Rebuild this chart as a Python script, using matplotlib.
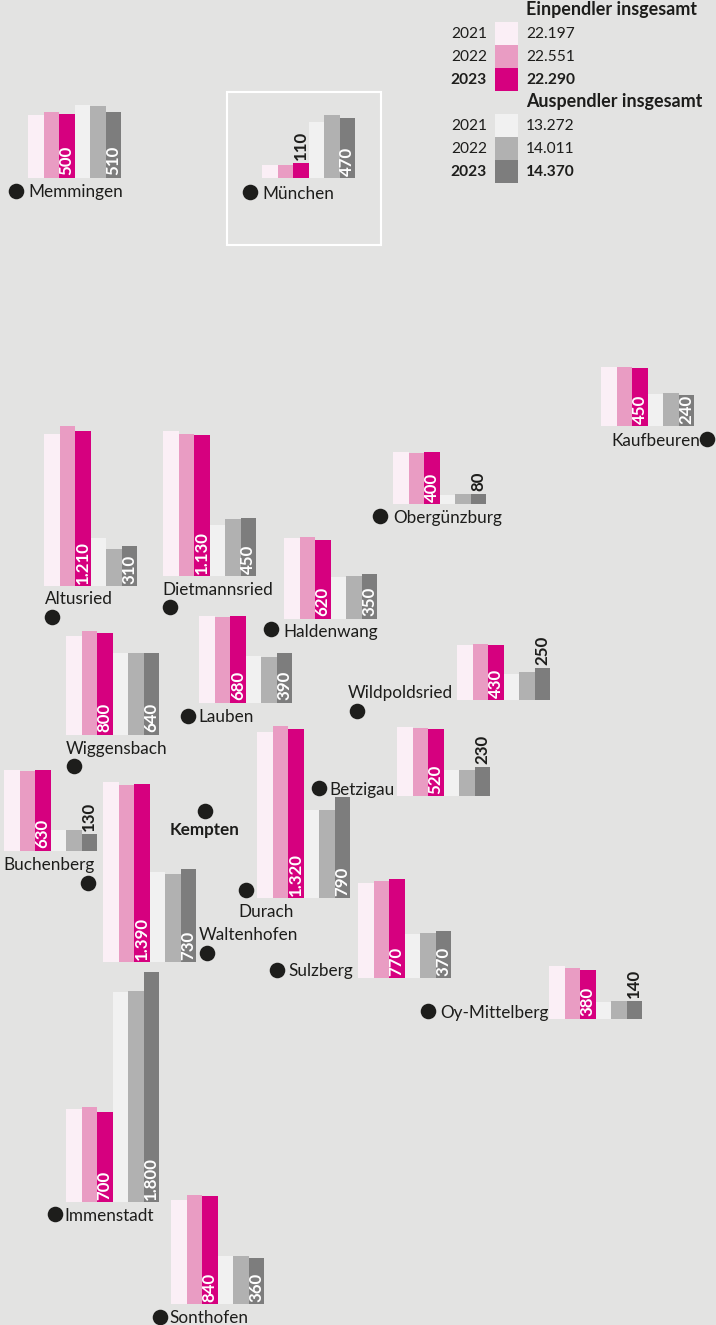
import matplotlib
matplotlib.use('Agg')
import matplotlib.pyplot as plt
from matplotlib.patches import Rectangle

plt.rcParams['font.family'] = ['Lato', 'DejaVu Sans']

# werte je gemeinde
orte = ['Memmingen', 'München', 'Altusried', 'Dietmannsried', 'Haldenwang', 'Wiggensbach',
        'Lauben', 'Wildpoldsried', 'Obergünzburg', 'Kaufbeuren', 'Betzigau', 'Buchenberg',
        'Durach', 'Waltenhofen', 'Sulzberg', 'Oy-Mittelberg', 'Immenstadt', 'Sonthofen']
ein_2021 = [490, 105, 1190, 1135, 630, 775, 680, 430, 405, 460, 540, 630, 1295, 1405, 740, 415, 725, 812]
ein_2022 = [515, 100, 1250, 1110, 640, 810, 670, 437, 400, 460, 530, 625, 1345, 1385, 760, 400, 740, 850]
ein_2023 = [500, 115, 1210, 1100, 620, 800, 680, 430, 405, 450, 520, 630, 1320, 1390, 770, 380, 700, 840]
aus_2021 = [570, 440, 375, 400, 330, 640, 365, 203, 70, 250, 203, 165, 685, 700, 345, 133, 1640, 375]
aus_2022 = [560, 490, 290, 445, 335, 640, 360, 219, 75, 258, 203, 165, 685, 685, 350, 140, 1650, 375]
aus_2023 = [510, 470, 310, 450, 350, 640, 390, 250, 80, 240, 230, 130, 790, 730, 370, 140, 1800, 360]
label_ein = ['500', '110', '1.210', '1.130', '620', '800', '680', '430', '400', '450', '520', '630',
             '1.320', '1.390', '770', '380', '700', '840']
label_aus = ['510', '470', '310', '450', '350', '640', '390', '250', '80', '240', '230', '130',
             '790', '730', '370', '140', '1.800', '360']

legend_jahre = ['2021', '2022', '2023']
legend_ein = ['22.197', '22.551', '22.290']
legend_aus = ['13.272', '14.011', '14.370']

# lage auf der karte in pixeln: balken links, grundlinie
bar_x = [28, 262, 44, 163, 284, 66, 199, 457, 393, 601, 397, 4, 257, 103, 358, 549, 66, 171]
bar_y = [177.5, 178, 586, 576, 619, 735, 703, 700, 504, 426, 796, 851, 898, 962, 978, 1019, 1202, 1304]
# punkt und name, Kempten hat keine balken
punkte = {
    'Memmingen': (16, 191, 28, 192), 'München': (250, 192, 262, 194),
    'Altusried': (52, 617, 44.5, 599), 'Dietmannsried': (170, 607, 162, 590),
    'Haldenwang': (271, 629, 283.5, 632), 'Wiggensbach': (74, 766, 66, 749),
    'Lauben': (188, 716, 198, 717), 'Wildpoldsried': (357, 711, 348, 693),
    'Obergünzburg': (380, 516, 393, 518), 'Kaufbeuren': (707, 439, 611, 441),
    'Betzigau': (319, 788, 329, 790), 'Buchenberg': (88, 883, 3, 865),
    'Kempten': (205, 811, 170, 830), 'Durach': (246, 890, 238, 912),
    'Waltenhofen': (207, 953, 199, 935), 'Sulzberg': (277, 970, 288, 971),
    'Oy-Mittelberg': (428, 1011, 440, 1013), 'Immenstadt': (55, 1214, 64, 1216),
    'Sonthofen': (160, 1317, 169, 1318),
}
aussen_ein = ['München']
aussen_aus = ['Wildpoldsried', 'Obergünzburg', 'Betzigau', 'Buchenberg', 'Oy-Mittelberg']

BG = '#e3e3e2'
DUNKEL = '#1d1d1b'
FARBEN = ['#fbeff6', '#e99cc3', '#d6007f', '#f1f1f1', '#b1b1b1', '#7d7d7d']
PX_PRO_WERT = 0.128
STEP = 15.5
NAME_SIZE = 12.3
WERT_SIZE = 12.2
LEGEND_SIZE = 11.2


def wert_label(ax, x, y, text, aussen, farbe='white'):
    if aussen:
        farbe = DUNKEL
    ax.text(x, y, text, rotation=90, ha='center', va='bottom', color=farbe,
            fontsize=WERT_SIZE, fontweight='bold')


def main():
    fig = plt.figure(figsize=(7.16, 13.25), dpi=100, facecolor=BG)
    ax = fig.add_axes([0, 0, 1, 1])
    ax.set_xlim(0, 716)
    ax.set_ylim(1325, 0)
    ax.axis('off')

    ax.add_patch(Rectangle((227, 92), 154, 153, fill=False, edgecolor='white', linewidth=1.5))

    reihen = [ein_2021, ein_2022, ein_2023, aus_2021, aus_2022, aus_2023]
    for i, ort in enumerate(orte):
        for j, reihe in enumerate(reihen):
            ax.bar(bar_x[i] + j * STEP, -reihe[i] * PX_PRO_WERT, bottom=bar_y[i], width=STEP + 0.3,
                   align='edge', color=FARBEN[j], linewidth=0)

        x_ein = bar_x[i] + 2.5 * STEP
        x_aus = bar_x[i] + 5.5 * STEP
        if ort in aussen_ein:
            wert_label(ax, x_ein, bar_y[i] - ein_2023[i] * PX_PRO_WERT - 3, label_ein[i], True)
        else:
            wert_label(ax, x_ein, bar_y[i] - 2.5, label_ein[i], False)
        if ort in aussen_aus:
            wert_label(ax, x_aus, bar_y[i] - aus_2023[i] * PX_PRO_WERT - 3, label_aus[i], True)
        else:
            wert_label(ax, x_aus, bar_y[i] - 2.5, label_aus[i], False)

    for ort, (px, py, tx, ty) in punkte.items():
        ax.plot(px, py, 'o', color=DUNKEL, markersize=11.2, markeredgewidth=0)
        ax.text(tx, ty, ort, ha='left', va='center', color=DUNKEL, fontsize=NAME_SIZE,
                fontweight='bold' if ort == 'Kempten' else 'normal')

    # legende
    ax.text(526, 10, 'Einpendler insgesamt', va='center', color=DUNKEL, fontsize=12.9, fontweight='bold')
    ax.text(526, 102, 'Auspendler insgesamt', va='center', color=DUNKEL, fontsize=12.9, fontweight='bold')
    for k, jahr in enumerate(legend_jahre):
        gewicht = 'bold' if k == 2 else 'normal'
        for y0, werte, start in [(22, legend_ein, 0), (114, legend_aus, 3)]:
            ax.add_patch(Rectangle((495, y0 + k * 23), 23, 23, facecolor=FARBEN[start + k], linewidth=0))
            ax.text(487, y0 + 12 + k * 23, jahr, ha='right', va='center', color=DUNKEL,
                    fontsize=LEGEND_SIZE, fontweight=gewicht)
            ax.text(526, y0 + 12 + k * 23, werte[k], ha='left', va='center', color=DUNKEL,
                    fontsize=LEGEND_SIZE, fontweight=gewicht)

    fig.savefig('out.png', dpi=100, facecolor=BG)


main()
